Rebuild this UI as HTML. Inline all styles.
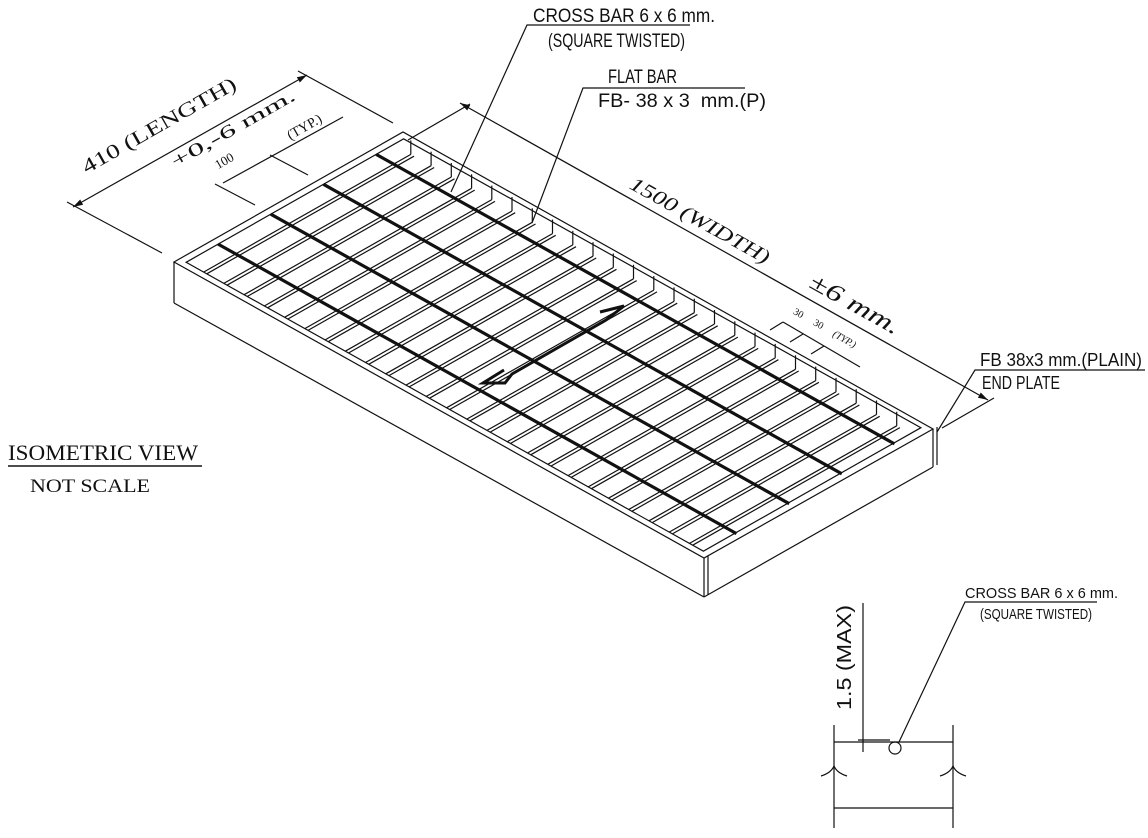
<!DOCTYPE html>
<html><head><meta charset="utf-8">
<style>
html,body{margin:0;padding:0;background:#fff;}
svg{display:block;}
.n{font-family:"Liberation Sans Narrow","Liberation Sans",sans-serif;fill:#111;}
.s{font-family:"Liberation Serif",serif;fill:#111;}
</style></head>
<body>
<svg id="d" width="1148" height="838" viewBox="0 0 1148 838" xmlns="http://www.w3.org/2000/svg">
<defs>
<marker id="ar" viewBox="0 0 10 6" refX="10" refY="3" markerWidth="10" markerHeight="6" orient="auto-start-reverse" markerUnits="userSpaceOnUse"><path d="M0,0 L10,3 L0,6 z" fill="#111"/></marker>
</defs>
<g id="g" stroke="#111" fill="none" stroke-width="1.2"></g>

<g stroke="#111" stroke-width="1.2" fill="none">
<line x1="73" y1="207" x2="307" y2="75" marker-start="url(#ar)" marker-end="url(#ar)"/>
<line x1="67" y1="202" x2="162" y2="253"/>
<line x1="298" y1="71" x2="393" y2="123"/>
<line x1="223" y1="183" x2="343" y2="117"/>
<line x1="215" y1="184" x2="255" y2="205"/>
<line x1="270" y1="155" x2="308" y2="175"/>
<line x1="460" y1="103" x2="988" y2="400" marker-start="url(#ar)" marker-end="url(#ar)"/>
<line x1="408" y1="140" x2="470" y2="104"/>
<line x1="942" y1="428" x2="994" y2="398"/>
<line x1="783" y1="322" x2="860" y2="367"/>
<line x1="783" y1="322" x2="770" y2="330"/>
<line x1="803" y1="334" x2="790" y2="342"/>
<line x1="824" y1="346" x2="811" y2="354"/>
<polyline points="451,192 527,25 690,25"/>
<polyline points="532,223 583,88 745,88"/>
<polyline points="937,432 975,370 1145,370"/>
<line x1="8" y1="466" x2="202" y2="466" stroke-width="1.4"/>
<line x1="863" y1="603" x2="863" y2="752"/>
<line x1="834" y1="725" x2="834" y2="828"/>
<line x1="953" y1="725" x2="953" y2="828"/>
<line x1="834" y1="742" x2="953" y2="742"/>
<line x1="834" y1="808" x2="953" y2="808"/>
<line x1="858" y1="740" x2="890" y2="740"/>
<circle cx="895" cy="748" r="6"/>
<polyline points="899,742 965,602 1097,602"/>
<path d="M821,776 q10,-3 13,-10 q3,7 13,10"/>
<path d="M940,776 q10,-3 13,-10 q3,7 13,10"/>
</g>
<path d="M600,312 L624,306 L606,320 L512,374 L505,383 L483,383 L504,370" stroke="#111" stroke-width="3" fill="none"/>

<text class="s" font-size="20" textLength="174" lengthAdjust="spacingAndGlyphs" transform="translate(160,127) rotate(-29.6)" text-anchor="middle" dominant-baseline="middle">410 (LENGTH)</text>
<text class="s" font-size="18" textLength="140" lengthAdjust="spacingAndGlyphs" transform="translate(234,130) rotate(-29.6)" text-anchor="middle" dominant-baseline="middle">+0,-6 mm.</text>
<text class="s" font-size="13" transform="translate(225,162) rotate(-29.6)" text-anchor="middle" dominant-baseline="middle">100</text>
<text class="s" font-size="14" transform="translate(305,128) rotate(-29.6)" text-anchor="middle" dominant-baseline="middle">(TYP.)</text>
<text class="s" font-size="20" font-style="italic" textLength="157" lengthAdjust="spacingAndGlyphs" transform="translate(699,222) rotate(29.2)" text-anchor="middle" dominant-baseline="middle">1500 (WIDTH)</text>
<text class="s" font-size="24" font-style="italic" textLength="100" lengthAdjust="spacingAndGlyphs" transform="translate(854,306) rotate(29.2)" text-anchor="middle" dominant-baseline="middle">±6 mm.</text>
<text class="s" font-size="10" transform="translate(797,316) rotate(29.2)" text-anchor="middle">30</text>
<text class="s" font-size="10" transform="translate(817,327) rotate(29.2)" text-anchor="middle">30</text>
<text class="s" font-size="10" font-style="italic" transform="translate(843,342) rotate(29.2)" text-anchor="middle">(TYP.)</text>

<text class="n" font-size="19" x="533" y="22" textLength="182" lengthAdjust="spacingAndGlyphs">CROSS BAR 6 x 6 mm.</text>
<text class="n" font-size="19" x="548" y="47" textLength="137" lengthAdjust="spacingAndGlyphs">(SQUARE TWISTED)</text>
<text class="n" font-size="19" x="608" y="83" textLength="69" lengthAdjust="spacingAndGlyphs">FLAT BAR</text>
<text class="n" font-size="19" x="598" y="107" textLength="168" lengthAdjust="spacingAndGlyphs">FB- 38 x 3 &#160;mm.(P)</text>
<text class="n" font-size="18" x="980" y="366" textLength="162" lengthAdjust="spacingAndGlyphs">FB 38x3 mm.(PLAIN)</text>
<text class="n" font-size="18" x="982" y="389" textLength="78" lengthAdjust="spacingAndGlyphs">END PLATE</text>
<text class="n" font-size="15" x="965" y="598" textLength="153" lengthAdjust="spacingAndGlyphs">CROSS BAR 6 x 6 mm.</text>
<text class="n" font-size="15" x="980" y="619" textLength="112" lengthAdjust="spacingAndGlyphs">(SQUARE TWISTED)</text>
<text class="n" font-size="20" textLength="105" lengthAdjust="spacingAndGlyphs" transform="translate(851,710) rotate(-90)">1.5 (MAX)</text>
<text class="s" font-size="22" x="8" y="460" textLength="190" lengthAdjust="spacingAndGlyphs">ISOMETRIC VIEW</text>
<text class="s" font-size="19" x="30" y="492" textLength="120" lengthAdjust="spacingAndGlyphs">NOT SCALE</text>
</svg>
<script>
(function(){
var g=document.getElementById('g'),NS='http://www.w3.org/2000/svg';
var L=[174,262],F=[704,558],B=[403,132],R=[933,429];
function P(u,v){return [L[0]+u*(F[0]-L[0])+v*(B[0]-L[0]), L[1]+u*(F[1]-L[1])+v*(B[1]-L[1])];}
function ln(a,b,w){var e=document.createElementNS(NS,'line');e.setAttribute('x1',a[0].toFixed(1));e.setAttribute('y1',a[1].toFixed(1));e.setAttribute('x2',b[0].toFixed(1));e.setAttribute('y2',b[1].toFixed(1));if(w)e.setAttribute('stroke-width',w);g.appendChild(e);}
function pg(pts){var e=document.createElementNS(NS,'polygon');e.setAttribute('points',pts.map(function(p){return p[0].toFixed(1)+','+p[1].toFixed(1)}).join(' '));g.appendChild(e);}
pg([L,B,R,F]);
var Ld=[L[0],L[1]+41],Fd=[F[0],F[1]+39],Rd=[R[0],R[1]+38];
ln(L,Ld);ln(Ld,Fd);ln(Fd,Rd);ln(R,Rd);ln(F,Fd);
ln([F[0]+4,F[1]-2],[F[0]+4,Fd[1]-2]);ln([R[0]+4,R[1]-2],[R[0]+4,Rd[1]-2]);
var i1=0.012,i2=0.988,j1=0.025,j2=0.975;
pg([P(i1,j1),P(i1,j2),P(i2,j2),P(i2,j1)]);
for(var i=0;i<25;i++){
 var u=0.045+i*0.0382;
 var a=P(u,j1),b=P(u,0.93);
 ln(a,b);ln(P(u+0.006,j1),P(u+0.006,0.93));
 ln([b[0],b[1]],[b[0],b[1]-14]);
}
[0.165,0.395,0.625,0.855].forEach(function(v){ln(P(0.012,v),P(0.99,v),3.2);});
})();
</script>
</body></html>
